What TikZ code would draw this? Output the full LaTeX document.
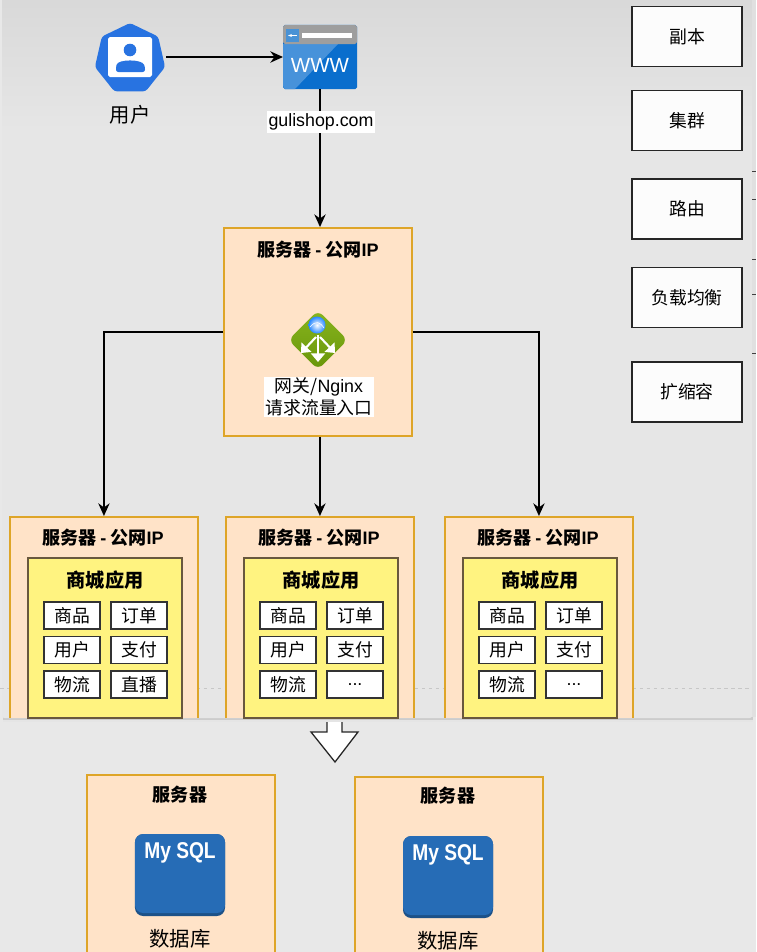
\documentclass[tikz,border=0pt]{standalone}
\usepackage{fontspec}
\usepackage{xcolor}
\usepackage{tikz}
\usetikzlibrary{positioning,arrows.meta,shapes.geometric,calc}
\setmainfont{Noto Sans CJK SC}
\newfontfamily\latinf{Liberation Sans}
\newcommand{\fsmall}{\fontsize{15.4}{18}\selectfont}
\newcommand{\fmid}{\fontsize{15.2}{18.5}\selectfont}
\newcommand{\fbig}{\fontsize{17.4}{20}\selectfont}
\newcommand{\moredots}{{\latinf ...}}

\begin{document}
\begin{tikzpicture}[
      x=0.03cm, y=-0.03cm,
      srvbox/.style={rectangle, draw=srvline, fill=srvfill, line width=1.6pt,
        minimum width=5.64cm, minimum height=6.24cm, inner sep=0pt},
      appbox/.style={rectangle, draw=appline, fill=appfill, line width=1.6pt,
        minimum width=4.6cm, minimum height=4.79cm, inner sep=0pt},
      cellbox/.style={rectangle, draw=black!80, fill=white, line width=1.2pt,
        minimum width=1.69cm, minimum height=0.81cm, inner sep=0pt, font=\fmid},
      sidebox/.style={rectangle, draw=black!85, fill=black!1, line width=1.2pt,
        minimum width=3.3cm, minimum height=1.81cm, inner sep=0pt, font=\fmid},
      srvtitle/.style={inner sep=0pt, font=\fsmall\bfseries},
      flow/.style={-{Stealth[length=3.8mm,width=3.4mm]}, line width=1.4pt, black},
      wlabel/.style={fill=white, inner sep=1pt, align=center, font=\fmid},
    ]
    \definecolor{srvfill}{RGB}{255,227,200}
    \definecolor{srvline}{RGB}{222,165,40}
    \definecolor{appfill}{RGB}{255,243,128}
    \definecolor{appline}{RGB}{105,88,62}
    \definecolor{panelgray}{RGB}{230,230,230}
    \definecolor{pagegray}{RGB}{232,232,232}
    \definecolor{k8sblue}{RGB}{40,115,225}
    \definecolor{wwwblue}{RGB}{10,110,205}
    \definecolor{sqlblue}{RGB}{38,108,182}
    \definecolor{gatetop}{RGB}{135,180,30}
    \definecolor{gatebot}{RGB}{105,150,10}

    \useasboundingbox (0,0) rectangle (756,952);
    \fill[pagegray] (0,0) rectangle (756,952);

    % database servers, cut by the page edge
    \begin{scope}
      \clip (0,0) rectangle (756,952);
      \node[srvbox, anchor=north west] (db1) at (86,774) {};
      \node[srvbox, anchor=north west] (db2) at (354,776) {};
    \end{scope}
    \node[srvtitle] (db1title) at (180,795) {服务器};
    \node[srvtitle] (db2title) at (448,796) {服务器};
    \foreach \n/\cx/\cy in {1/180/875,2/448/877}{
      \node[rectangle, rounded corners=7pt, minimum width=2.7cm, minimum height=2.46cm, inner sep=0pt,
        fill=sqlblue!75!black] (sql\n) at (\cx,\cy) {};
      \fill[sqlblue, rounded corners=7pt] (\cx-45,\cy-41) rectangle (\cx+45,\cy+38);
      \node[text=white, inner sep=0pt, xscale=0.84, transform shape,
        font=\latinf\bfseries\fontsize{19.5}{21}\selectfont] (sql\n text) at (\cx,\cy-22.5) {My SQL};
      \node[inner sep=0pt, font=\fbig] (sql\n label) at (\cx,\cy+64) {数据库};
    }

    % the down arrow
    \draw[draw=black!85, fill=white, line width=1.1pt] (327,716) -- (327,732) -- (311,732) -- (335,762) -- (358,732) -- (342,732) -- (342,716);

    % panel
    \fill[black!20] (3,717) rectangle (753,720);
    \fill[black!10] (3,720) rectangle (753,722);
    \fill[panelgray, rounded corners=2pt] (2,-5) rectangle (752,718);
    \shade[top color=black!15, bottom color=panelgray] (2,0) rectangle (752,130);
    \draw[black!22, dashed, line width=0.4pt] (0,688) -- (750,688);
    \fill[black!12] (752,0) rectangle (756,717);
    \foreach \ty in {171,199,259,294,353}
      \draw[black!75, line width=0.7pt] (752,\ty) -- (756,\ty);

    % user and site
    \node[regular polygon, regular polygon sides=7, fill=k8sblue, rounded corners=2.5pt,
      minimum size=2.16cm, inner sep=0pt, outer sep=0pt] (user) at (130,59) {};
    \fill[white, rounded corners=1.5pt] (108,37) rectangle (152,77);
    \fill[k8sblue] (130,50) circle (6.3);
    \fill[k8sblue, rounded corners=2pt] (116,72) -- (116,67) .. controls (118,59) and (142,59) .. (145,67) -- (145,72) -- cycle;
    \node[inner sep=0pt, font=\fbig] (userlabel) at (130,115) {用户};

    \node[rectangle, fill=wwwblue, rounded corners=1.5pt, minimum width=2.22cm, minimum height=1.92cm,
      inner sep=0pt, outer sep=0pt] (www) at (320,57) {};
    \fill[wwwblue!75!white] (283,86) -- (283,44) -- (338,44) -- (295,89) -- (285,89) -- cycle;
    \fill[black!38, rounded corners=1.5pt] (283,44) -- (283,25) -- (357,25) -- (357,44) -- cycle;
    \fill[cyan!60!blue!75] (286,29) rectangle (299,42);
    \draw[white, line width=0.6pt, -{Stealth[length=1.2mm]}] (297,35.5) -- (288,35.5);
    \fill[white] (302,33) rectangle (352,38);
    \node[text=white, inner sep=0pt, font=\latinf\fontsize{17.5}{20}\selectfont] (wwwtext) at (320,65) {WWW};

    % gateway server
    \node[srvbox] (gate) at (318,332) {};
    \node[srvtitle] (gatetitle) at (318,250) {服务器 {\latinf -} 公网{\latinf IP}};
    \node[diamond, rounded corners=6pt, top color=gatetop, bottom color=gatebot,
      minimum width=1.79cm, minimum height=1.79cm, inner sep=0pt] (nginx) at (318,340) {};
    \draw[white, line width=2pt, -{Triangle[length=2.6mm,width=4.2mm]}] (318,335) -- (318,362);
    \draw[white, line width=1.8pt, -{Triangle[length=2.4mm,width=4mm]}] (316,337) -- (301,353);
    \draw[white, line width=1.8pt, -{Triangle[length=2.4mm,width=4mm]}] (320,337) -- (335,353);
    \shade[inner color=white, outer color=blue!55!cyan!85] (317,325) circle (8.5);
    \draw[white, line width=0.5pt] (310,327) .. controls (316,320) and (320,322) .. (324,328);

    \draw[flow] (www.south) -- (www.south |- gate.north);
    \node[wlabel, font=\latinf\fmid, minimum height=0.66cm] (site) at (321,122) {gulishop.com};
    \node[wlabel] (gatelabel) at (319,397) {网关/{\latinf Nginx}\\请求流量入口};

    % application servers, cut by the panel
    \begin{scope}
      \clip (0,0) rectangle (752,717);
      \foreach \n/\sx in {1/9,2/225,3/444}
        \node[srvbox, anchor=north west] (srv\n) at (\sx,516) {};
    \end{scope}
    \foreach \n/\sx/\last in {1/9/直播,2/225/\moredots,3/444/\moredots}{
      \node[srvtitle] (srv\n title) at (\sx+94,538) {服务器 {\latinf -} 公网{\latinf IP}};
      \node[appbox, anchor=north] (app\n) at (\sx+96,557) {};
      \node[inner sep=0pt, font=\fontsize{16.4}{19}\selectfont\bfseries] (app\n title) at (\sx+96,580) {商城应用};
      \node[cellbox] (goods\n) at (\sx+63,615.5) {商品};
      \node[cellbox] (order\n) at (\sx+130,615.5) {订单};
      \node[cellbox] (usr\n) at (\sx+63,650) {用户};
      \node[cellbox] (pay\n) at (\sx+130,650) {支付};
      \node[cellbox] (ship\n) at (\sx+63,684.5) {物流};
      \node[cellbox] (last\n) at (\sx+130,684.5) {\last};
    }

    \draw[flow] ([xshift=0.09cm]user.east |- www.west) -- (www.west);
    \draw[flow] (gate.west) -| (srv1.north);
    \draw[flow] (srv2.north |- gate.south) -- (srv2.north);
    \draw[flow] (gate.east) -| (srv3.north);

    % side list
    \foreach \n/\ty/\txt in {1/36.5/副本,2/120.5/集群,3/209/路由,4/297.5/负载均衡,5/392/扩缩容}
      \node[sidebox] (side\n) at (687,\ty) {\txt};
  \end{tikzpicture}
\end{document}
